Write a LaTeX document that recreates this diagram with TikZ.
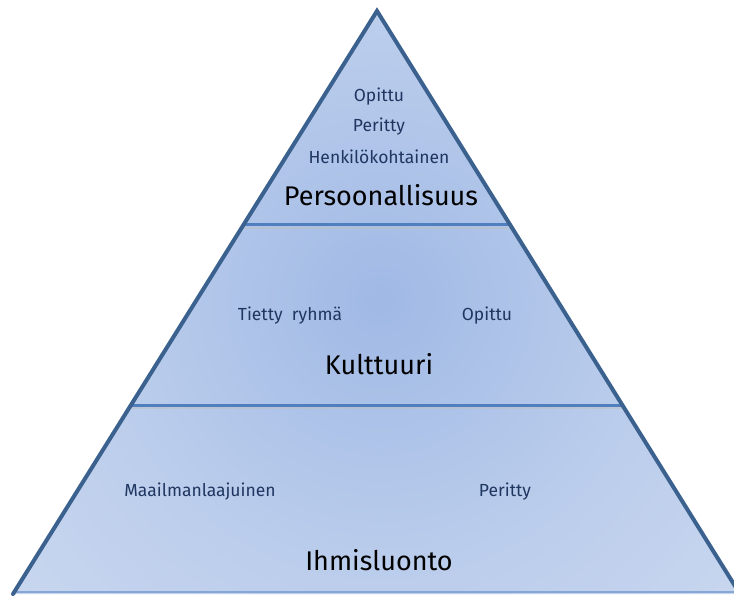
\documentclass[tikz,border=0pt]{standalone}
\usepackage{fontspec}
\setmainfont{Fira Sans}
\usetikzlibrary{calc}
\definecolor{outl}{HTML}{3B618F}
\definecolor{divl}{HTML}{4F7FBF}
\definecolor{fillin}{HTML}{A0B9E5}
\definecolor{fillmid}{HTML}{BBCDEC}
\definecolor{fillout}{HTML}{D6E0F2}
\definecolor{smalltxt}{HTML}{1F3660}
\definecolor{baseline}{HTML}{86A6D6}
\pgfdeclareradialshading{pyr}{\pgfpoint{0bp}{0bp}}{color(0bp)=(fillin); color(12bp)=(fillmid); color(30bp)=(fillout); color(50bp)=(fillout)}
\tikzset{
  small/.style={font=\fontsize{17.5}{19}\selectfont, text=smalltxt, inner sep=0pt},
  big/.style={font=\fontsize{27}{30}\selectfont, text=black, inner sep=0pt},
  divider/.style={draw=divl, line width=3pt},
  divshadow/.style={draw=black!25, line width=2pt, opacity=0.5},
  edge/.style={draw=outl, line width=4pt, line join=miter, line cap=round}
}
\begin{document}
\begin{tikzpicture}[x=1pt,y=-1pt]
\useasboundingbox (0,0) rectangle (734,595);
\fill[white] (0,0) rectangle (734,595);
\coordinate (A) at (377,11);
\coordinate (L) at (13,594);
\coordinate (R) at (740,594);
\coordinate (L1) at ($(A)!0.367!(L)$);
\coordinate (R1) at ($(A)!0.367!(R)$);
\coordinate (L2) at ($(A)!0.676!(L)$);
\coordinate (R2) at ($(A)!0.676!(R)$);
\begin{scope}
\clip (A) -- (L) -- (R) -- cycle;
\shade[shading=pyr] (380,300) circle (560);
\draw[divshadow] ($(L1)+(0,3)$) -- ($(R1)+(0,3)$);
\draw[divshadow] ($(L2)+(0,3)$) -- ($(R2)+(0,3)$);
\draw[divider] (L1) -- (R1);
\draw[divider] (L2) -- (R2);
\draw[draw=baseline, line width=2pt] (L) ++(0,-2) -- ($(R)+(0,-2)$);
\end{scope}
\draw[edge] (L) -- (A) -- (R);
\node[small] (t1) at (379,97) {Opittu};
\node[small] (t2) at (379,127) {Peritty};
\node[small] (t3) at (379,157) {Henkilökohtainen};
\node[big] (t4) at (381,195) {Persoonallisuus};
\node[small] (m1) at (290,316) {Tietty\ \ ryhmä};
\node[small] (m2) at (487,316) {Opittu};
\node[big] (m3) at (379,364) {Kulttuuri};
\node[small] (b1) at (200,492) {Maailmanlaajuinen};
\node[small] (b2) at (505,492) {Peritty};
\node[big] (b3) at (379,560) {Ihmisluonto};
\end{tikzpicture}
\end{document}
